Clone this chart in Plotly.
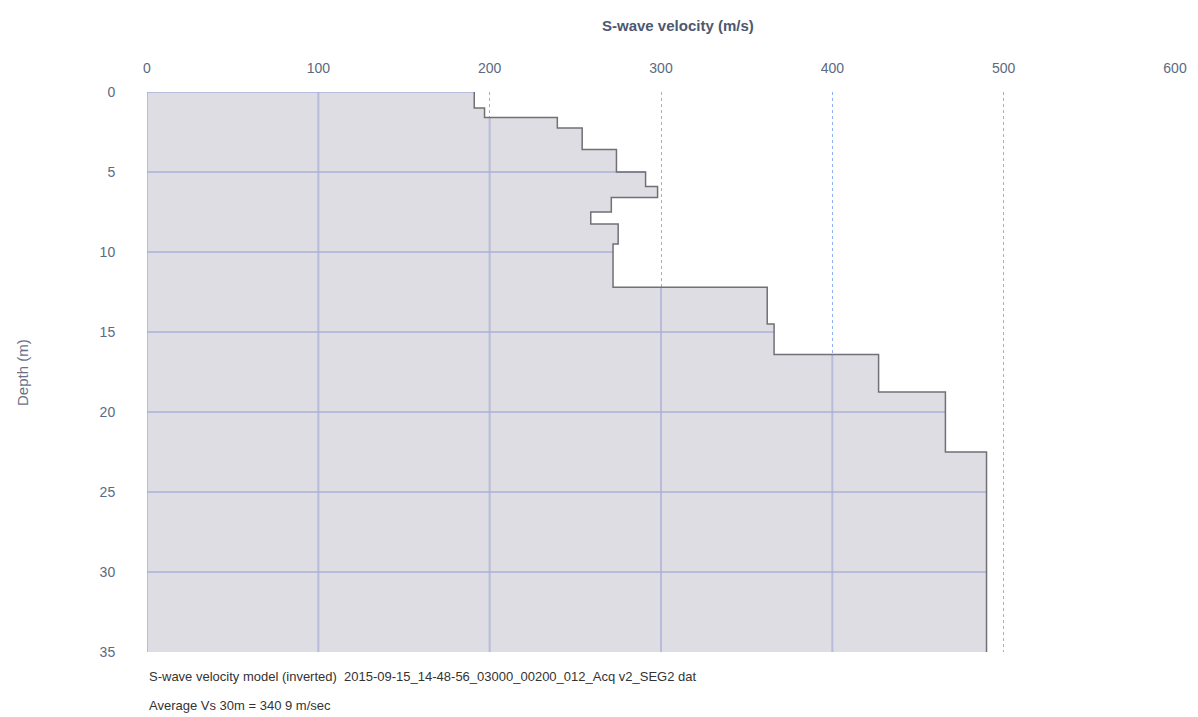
import plotly.graph_objects as go

# Layered S-wave velocity model: top depth of each layer (m) and its Vs (m/s)
layer_top = [0.0, 1.0, 1.6, 2.25, 3.6, 5.0, 5.9, 6.6, 7.5, 8.25, 9.5, 12.2, 14.5, 16.4, 18.75, 22.5]
layer_vs = [191, 197, 239.5, 254, 274, 291, 298, 271, 259, 275, 272, 362, 366, 427, 466, 490]
max_depth = 35.0

x_ticks = [0, 100, 200, 300, 400, 500, 600]
y_ticks = [0, 5, 10, 15, 20, 25, 30, 35]

layer_bottom = layer_top[1:] + [max_depth]

# Step outline of the profile
step_x, step_y = [], []
for top, bot, v in zip(layer_top, layer_bottom, layer_vs):
    step_x += [v, v]
    step_y += [top, bot]

poly_x = [0] + step_x + [0]
poly_y = [0] + step_y + [max_depth]


def vs_at(depth):
    for top, bot, v in zip(layer_top, layer_bottom, layer_vs):
        if top <= depth < bot:
            return v
    return layer_vs[-1]


# Grid segments drawn only inside the filled profile
grid_x, grid_y = [], []
for d in y_ticks[:-1]:
    grid_x += [0, vs_at(d), None]
    grid_y += [d, d, None]
for v in x_ticks[:-1]:
    start = 0.0
    for top, bot, vel in zip(layer_top, layer_bottom, layer_vs):
        if vel < v:
            start = bot
    if start < max_depth:
        grid_x += [v, v, None]
        grid_y += [start, max_depth, None]

fig = go.Figure()
fig.add_trace(go.Scatter(
    x=poly_x, y=poly_y, fill="toself", fillcolor="#dddde3",
    mode="lines", line=dict(width=0), hoverinfo="skip", showlegend=False))
fig.add_trace(go.Scatter(
    x=grid_x, y=grid_y, mode="lines",
    line=dict(color="rgba(168,172,215,0.7)", width=2),
    hoverinfo="skip", showlegend=False))
fig.add_trace(go.Scatter(
    x=step_x, y=step_y, mode="lines",
    line=dict(color="#707076", width=1.5),
    name="Vs", showlegend=False))

tick_font = dict(family="Liberation Sans, Arial, sans-serif", size=14, color="#5b6a82")

fig.update_layout(
    width=1198, height=717,
    margin=dict(l=147, r=23, t=92, b=65),
    paper_bgcolor="white", plot_bgcolor="white",
    xaxis=dict(
        side="top", range=[0, 600], tickvals=x_ticks,
        ticks="outside", ticklen=12, tickcolor="rgba(0,0,0,0)",
        tickfont=tick_font, showgrid=True, gridcolor="rgba(70,125,225,0.6)",
        griddash="dot", gridwidth=1, zeroline=False, showline=False,
    ),
    yaxis=dict(
        range=[max_depth, 0], tickvals=y_ticks,
        ticks="outside", ticklen=28, tickcolor="rgba(0,0,0,0)",
        tickfont=tick_font, showgrid=False, zeroline=False, showline=False,
    ),
    annotations=[
        dict(text="<b>S-wave velocity (m/s)</b>", xref="paper", yref="paper",
             x=0.5165, y=1.118, xanchor="center", yanchor="middle", showarrow=False,
             font=dict(family="Liberation Sans, Arial, sans-serif", size=15, color="#4c5870")),
        dict(text="Depth (m)", xref="paper", yref="paper", textangle=-90,
             x=-0.1216, y=0.5, xanchor="center", yanchor="middle", showarrow=False,
             font=dict(family="Liberation Sans, Arial, sans-serif", size=15, color="#6a7186")),
        dict(text="S-wave velocity model (inverted)  2015-09-15_14-48-56_03000_00200_012_Acq v2_SEG2 dat",
             xref="paper", yref="paper", x=0, y=-0.043, xanchor="left", yanchor="middle",
             showarrow=False,
             font=dict(family="Liberation Sans, Arial, sans-serif", size=13, color="#333333")),
        dict(text="Average Vs 30m = 340 9 m/sec",
             xref="paper", yref="paper", x=0, y=-0.096, xanchor="left", yanchor="middle",
             showarrow=False,
             font=dict(family="Liberation Sans, Arial, sans-serif", size=13, color="#333333")),
    ],
)

fig.write_html("out.html")
